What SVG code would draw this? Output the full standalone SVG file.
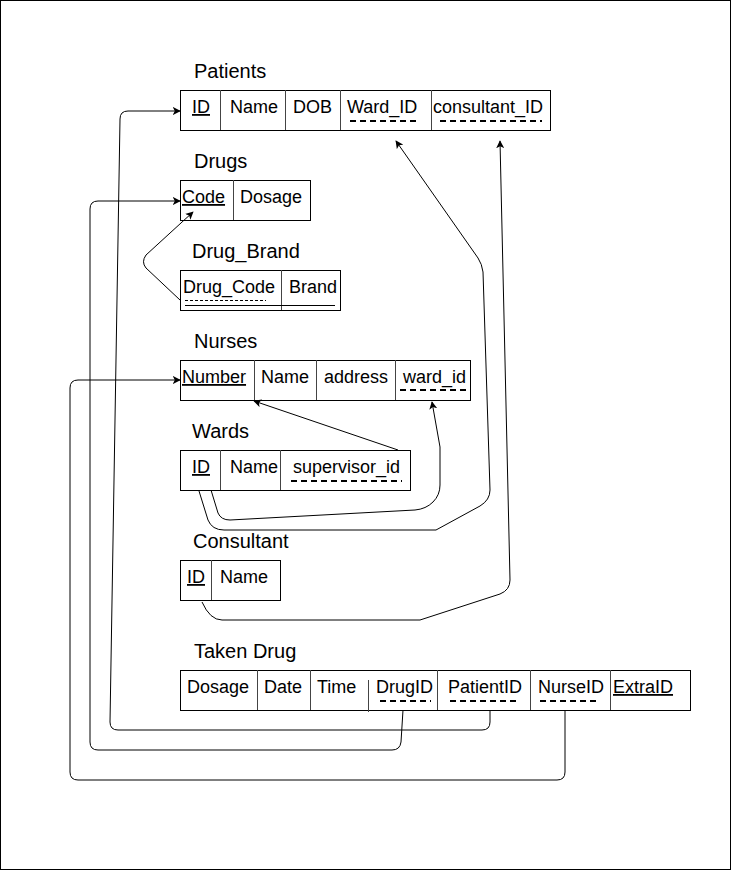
<svg xmlns="http://www.w3.org/2000/svg" width="732" height="871" viewBox="0 0 732 871">
<style>
text{font-family:"Liberation Sans",Arial,sans-serif;fill:#000}
.lbl{font-size:20px}
.f{font-size:18px}
.u{text-decoration:underline}
.box{fill:#fff;stroke:#000;stroke-width:1}
.div{stroke:#444;stroke-width:1}
.dash{stroke:#000;stroke-width:2;stroke-dasharray:6 4;fill:none}
.conn{fill:none;stroke:#000;stroke-width:1}
</style>
<defs>
<marker id="ah" viewBox="0 0 10 10" refX="9" refY="5" markerWidth="8" markerHeight="8" markerUnits="userSpaceOnUse" orient="auto">
<path d="M0,0 L10,5 L0,10 L2.5,5 z" fill="#000"/>
</marker>
</defs>
<rect x="0.5" y="0.5" width="730" height="869" fill="#fff" stroke="#000"/>

<g id="patients">
<text class="lbl" x="194" y="78">Patients</text>
<rect class="box" x="180.5" y="90.5" width="370" height="40"/>
<line class="div" x1="220.5" y1="90" x2="220.5" y2="130"/>
<line class="div" x1="285.5" y1="90" x2="285.5" y2="130"/>
<line class="div" x1="340.5" y1="90" x2="340.5" y2="130"/>
<line class="div" x1="431.5" y1="90" x2="431.5" y2="130"/>
<text class="f u" x="192" y="113">ID</text>
<text class="f" x="230" y="113">Name</text>
<text class="f" x="293" y="113">DOB</text>
<text class="f" x="347" y="113">Ward_ID</text>
<text class="f" x="433" y="113">consultant_ID</text>
<line class="dash" x1="350" y1="121" x2="418" y2="121"/>
<line class="dash" x1="440" y1="121" x2="542" y2="121"/>
</g>

<g id="drugs">
<text class="lbl" x="194" y="168">Drugs</text>
<rect class="box" x="180.5" y="180.5" width="130" height="40"/>
<line class="div" x1="233.5" y1="180" x2="233.5" y2="220"/>
<text class="f u" x="182" y="203">Code</text>
<text class="f" x="240" y="203">Dosage</text>
</g>

<g id="drug_brand">
<text class="lbl" x="192" y="258">Drug_Brand</text>
<rect class="box" x="180.5" y="270.5" width="160" height="40"/>
<line class="div" x1="281.5" y1="270" x2="281.5" y2="310"/>
<text class="f" x="183" y="293">Drug_Code</text>
<text class="f" x="289" y="293">Brand</text>
<line x1="185" y1="300.5" x2="266" y2="300.5" stroke="#000" stroke-width="1" stroke-dasharray="3 2"/>
<line x1="185" y1="305.5" x2="335" y2="305.5" stroke="#000" stroke-width="1"/>
</g>

<g id="nurses">
<text class="lbl" x="194" y="348">Nurses</text>
<rect class="box" x="180.5" y="360.5" width="290" height="40"/>
<line class="div" x1="254.5" y1="360" x2="254.5" y2="400"/>
<line class="div" x1="316.5" y1="360" x2="316.5" y2="400"/>
<line class="div" x1="395.5" y1="360" x2="395.5" y2="400"/>
<text class="f u" x="182" y="383">Number</text>
<text class="f" x="261" y="383">Name</text>
<text class="f" x="324" y="383">address</text>
<text class="f" x="403" y="383">ward_id</text>
<line class="dash" x1="400" y1="390" x2="468" y2="390"/>
</g>

<g id="wards">
<text class="lbl" x="192" y="438">Wards</text>
<rect class="box" x="180.5" y="450.5" width="230" height="40"/>
<line class="div" x1="220.5" y1="450" x2="220.5" y2="490"/>
<line class="div" x1="280.5" y1="450" x2="280.5" y2="490"/>
<text class="f u" x="192" y="473">ID</text>
<text class="f" x="230" y="473">Name</text>
<text class="f" x="293" y="473">supervisor_id</text>
<line class="dash" x1="291" y1="481" x2="402" y2="481"/>
</g>

<g id="consultant">
<text class="lbl" x="193" y="548">Consultant</text>
<rect class="box" x="180.5" y="560.5" width="100" height="40"/>
<line class="div" x1="211.5" y1="560" x2="211.5" y2="600"/>
<text class="f u" x="187" y="583">ID</text>
<text class="f" x="220" y="583">Name</text>
</g>

<g id="taken_drug">
<text class="lbl" x="194" y="658">Taken Drug</text>
<rect class="box" x="180.5" y="670.5" width="510" height="40"/>
<line class="div" x1="257.5" y1="670" x2="257.5" y2="710"/>
<line class="div" x1="310.5" y1="670" x2="310.5" y2="710"/>
<line class="div" x1="368.5" y1="680" x2="368.5" y2="712"/>
<line class="div" x1="437.5" y1="670" x2="437.5" y2="710"/>
<line class="div" x1="530.5" y1="670" x2="530.5" y2="710"/>
<line class="div" x1="610.5" y1="670" x2="610.5" y2="710"/>
<text class="f" x="187" y="693">Dosage</text>
<text class="f" x="264" y="693">Date</text>
<text class="f" x="317" y="693">Time</text>
<text class="f" x="376" y="693">DrugID</text>
<text class="f" x="448" y="693">PatientID</text>
<text class="f" x="538" y="693">NurseID</text>
<text class="f u" x="613" y="693">ExtraID</text>
<line class="dash" x1="380" y1="701" x2="431" y2="701"/>
<line class="dash" x1="450" y1="701" x2="518" y2="701"/>
<line class="dash" x1="540" y1="701" x2="596" y2="701"/>
</g>

<g id="connectors">
<path class="conn" marker-end="url(#ah)" d="M490,710 L490,722 Q490,730 482,730 L118,730 Q110,730 110,722 L120,119 Q120,111 128,111 L180,111"/>
<path class="conn" marker-end="url(#ah)" d="M403,710 L401,742 Q400,750 392,750 L98,750 Q90,750 90,742 L90,209 Q90,201 98,201 L180,201"/>
<path class="conn" marker-end="url(#ah)" d="M565,710 L565,772 Q565,780 557,780 L78,780 Q70,780 70,772 L70,388 Q70,380 78,380 L180,380"/>
<path class="conn" marker-end="url(#ah)" d="M180,300 L146,268 Q141,262 146,255 L193,212"/>
<path class="conn" marker-end="url(#ah)" d="M398,450 L254,401"/>
<path class="conn" marker-end="url(#ah)" d="M211,490 L218,513 Q221,520 230,520 L415,510 Q426,509 433,502 Q440,495 440,485 L440,447 L432,402"/>
<path class="conn" marker-end="url(#ah)" d="M199,491 L208,520 Q212,530 224,530 L436,530 L480,506 Q490,500 490,490 L483,272 Q482,264 478,258 L396,141"/>
<path class="conn" marker-end="url(#ah)" d="M202,602 Q210,620 222,620 L420,620 L500,594 Q510,590 510,580 L500,141"/>
</g>
</svg>
